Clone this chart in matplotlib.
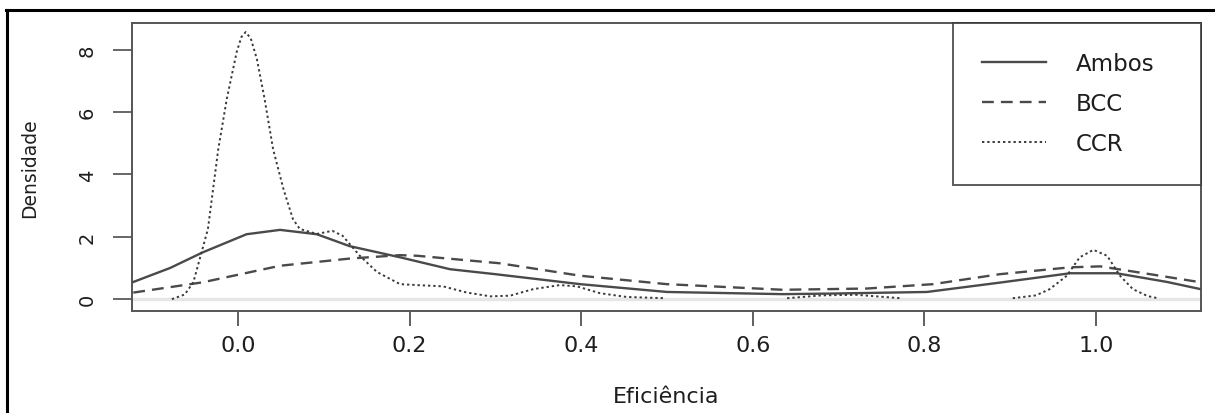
import numpy as np
import matplotlib.pyplot as plt
from matplotlib.lines import Line2D

# Densidades (eficiencia x densidade)
AMBOS_X = [-0.122, -0.079, -0.041, 0.01, 0.049, 0.092, 0.13, 0.189, 0.247, 0.30, 0.399,
           0.5, 0.635, 0.694, 0.803, 0.888, 0.97, 1.024, 1.083, 1.122]
AMBOS_Y = [0.55, 1.0, 1.5, 2.08, 2.22, 2.08, 1.7, 1.34, 0.96, 0.8, 0.48,
           0.23, 0.16, 0.18, 0.23, 0.53, 0.83, 0.83, 0.55, 0.32]

BCC_X = [-0.122, -0.041, 0.049, 0.13, 0.189, 0.209, 0.305, 0.399, 0.5, 0.635,
         0.733, 0.81, 0.888, 0.97, 1.005, 1.063, 1.122]
BCC_Y = [0.21, 0.54, 1.07, 1.3, 1.41, 1.39, 1.15, 0.75, 0.48, 0.3,
         0.34, 0.48, 0.8, 1.02, 1.05, 0.8, 0.54]

# CCR: trechos proximos de zero ficam escondidos pela linha cinza
CCR_X = [-0.077, -0.062, -0.052, -0.035, -0.023, -0.013, -0.0015, 0.004, 0.009, 0.015, 0.022, 0.031,
         0.041, 0.053, 0.064, 0.072, 0.092, 0.11, 0.122, 0.142, 0.162, 0.189,
         0.209, 0.239, 0.267, 0.294, 0.317, 0.344, 0.375, 0.395, 0.422, 0.453, 0.498,
         0.55,
         0.64, 0.68, 0.72, 0.772,
         0.84,
         0.903, 0.93, 0.946, 0.966, 0.981, 0.997, 1.013, 1.028, 1.043, 1.06, 1.072]
CCR_Y = [0.0, 0.15, 0.54, 2.25, 4.8, 6.42, 7.92, 8.4, 8.56, 8.35, 7.7, 6.42,
         4.8, 3.53, 2.57, 2.25, 2.09, 2.19, 2.03, 1.39, 0.87, 0.48,
         0.45, 0.41, 0.21, 0.09, 0.11, 0.32, 0.45, 0.41, 0.19, 0.07, 0.03,
         np.nan,
         0.03, 0.12, 0.14, 0.03,
         np.nan,
         0.03, 0.12, 0.32, 0.75, 1.34, 1.58, 1.39, 0.75, 0.32, 0.1, 0.03]

X_TICKS = [0.0, 0.2, 0.4, 0.6, 0.8, 1.0]
Y_TICKS = [0, 2, 4, 6, 8]

DARK = '#3a3a3a'
TXT = '#1e1e1e'

fig = plt.figure(figsize=(12.15, 4.14), dpi=100)
ax = fig.add_axes([132 / 1215, 1 - 312 / 414, (1201 - 132) / 1215, (312 - 24) / 414])

ax.axhline(0, color='#e6e6e6', lw=2.5, zorder=1)
ax.plot(AMBOS_X, AMBOS_Y, color='#4a4a4a', lw=1.7, ls='-', label='Ambos', zorder=3)
ax.plot(BCC_X, BCC_Y, color='#4a4a4a', lw=1.7, ls=(0, (5, 3)), label='BCC', zorder=3)
ax.plot(CCR_X, CCR_Y, color=DARK, lw=1.4, ls=(0, (1.2, 1.5)), label='CCR', zorder=3)

ax.set_xlim(-0.1235, 1.1224)
ax.set_ylim(-0.38, 8.85)
ax.set_xticks(X_TICKS)
ax.set_xticklabels(['%.1f' % v for v in X_TICKS])
ax.set_yticks(Y_TICKS)
ax.set_yticklabels([str(v) for v in Y_TICKS], rotation=90, va='center')

for s in ax.spines.values():
    s.set_color('#555555')
    s.set_linewidth(1.4)

ax.tick_params(axis='x', length=11, width=1.2, color='#444444', pad=6.5,
               labelsize=16, labelcolor=TXT)
ax.tick_params(axis='y', length=14, width=1.4, color='#666666', pad=11.5,
               labelsize=14, labelcolor=TXT)

ax.set_xlabel('Eficiência', fontsize=16, color=TXT, labelpad=22)
ax.set_ylabel('Densidade', fontsize=13.5, color=TXT, labelpad=28)

leg_x0 = (953 - 132) / (1201 - 132)
leg = ax.legend(loc='upper right', bbox_to_anchor=(leg_x0, 0, 1 - leg_x0, 1),
                mode='expand', fontsize=16.5, frameon=True, fancybox=False,
                handlelength=2.8, handletextpad=1.3, borderpad=1.27,
                labelspacing=0.75, borderaxespad=0)
leg.get_frame().set_edgecolor('#333333')
leg.get_frame().set_linewidth(1.4)
for t in leg.get_texts():
    t.set_color(TXT)

# moldura externa (apenas esquerda e topo visiveis)
fig.add_artist(Line2D([7 / 1215, 7 / 1215], [0, 1 - 11 / 414], color='black', lw=2.2))
fig.add_artist(Line2D([6 / 1215, 1], [1 - 11 / 414, 1 - 11 / 414], color='black', lw=2.2))

fig.savefig('out.png', dpi=100)
